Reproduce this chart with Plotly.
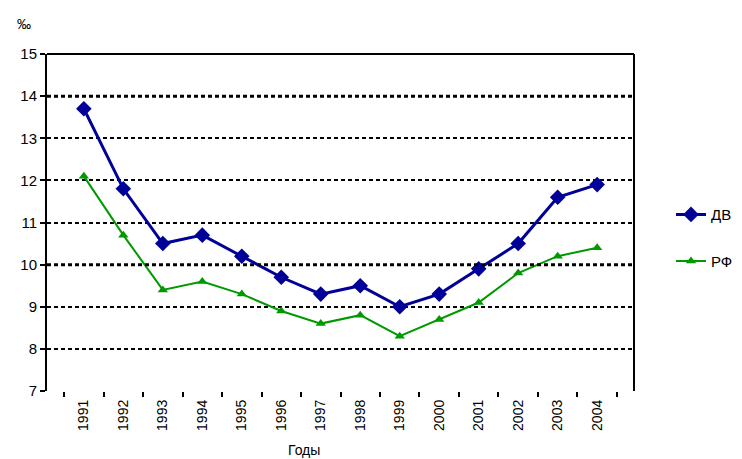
import plotly.graph_objects as go

years = ["1991", "1992", "1993", "1994", "1995", "1996", "1997", "1998", "1999", "2000", "2001", "2002", "2003", "2004"]
dv = [13.7, 11.8, 10.5, 10.7, 10.2, 9.7, 9.3, 9.5, 9.0, 9.3, 9.9, 10.5, 11.6, 11.9]
rf = [12.1, 10.7, 9.4, 9.6, 9.3, 8.9, 8.6, 8.8, 8.3, 8.7, 9.1, 9.8, 10.2, 10.4]
y_ticks = [7, 8, 9, 10, 11, 12, 13, 14, 15]

FONT = "Liberation Sans, Arial, sans-serif"

fig = go.Figure()
fig.add_trace(go.Scatter(x=years, y=dv, name="ДВ", mode="lines+markers", legendgroup="a",
                         line=dict(color="#000099", width=3),
                         marker=dict(symbol="diamond", size=12, color="#000099")))
fig.add_trace(go.Scatter(x=years, y=rf, name="РФ", mode="lines+markers", legendgroup="b",
                         line=dict(color="#009900", width=2),
                         marker=dict(symbol="triangle-up", size=9, color="#009900")))

fig.update_layout(
    width=742, height=459,
    margin=dict(l=35, r=107, t=46, b=76),
    paper_bgcolor="white", plot_bgcolor="white",
    font=dict(family=FONT, size=13, color="black"),
    showlegend=True,
    legend=dict(x=1.063, y=0.455, xanchor="left", yanchor="middle",
                font=dict(size=15), tracegroupgap=24, itemwidth=30,
                bgcolor="rgba(0,0,0,0)"),
    xaxis=dict(type="category", tickson="boundaries", ticks="outside", ticklen=5,
               tickwidth=2, tickcolor="black", tickangle=-90, showgrid=False,
               showline=False, zeroline=False, tickfont=dict(size=14),
               ticklabelstandoff=5),
    yaxis=dict(range=[7, 15], tickvals=y_ticks, ticks="outside", ticklen=5,
               tickwidth=2, tickcolor="black", showline=True, linecolor="black",
               linewidth=2, showgrid=True, gridcolor="black", gridwidth=2,
               griddash="4px,3px", zeroline=False, tickfont=dict(size=15)),
    shapes=[
        dict(type="line", xref="paper", yref="paper", x0=0, x1=1, y0=1, y1=1,
             line=dict(color="black", width=2)),
        dict(type="line", xref="paper", yref="paper", x0=1, x1=1, y0=0, y1=1,
             line=dict(color="black", width=2)),
        dict(type="line", xref="paper", yref="y", x0=0, x1=1, y0=14, y1=14,
             line=dict(color="black", width=3, dash="4px,3px")),
        dict(type="line", xref="paper", yref="y", x0=0, x1=1, y0=10, y1=10,
             line=dict(color="black", width=3, dash="4px,3px")),
    ],
    annotations=[
        dict(text="‰", xref="paper", yref="paper", x=-0.04, y=1.06,
             xanchor="center", yanchor="bottom", showarrow=False, font=dict(size=14)),
        dict(text="Годы", xref="paper", yref="paper", x=0.438, y=-0.175,
             xanchor="center", yanchor="middle", showarrow=False, font=dict(size=14)),
    ],
)

fig.write_html("out.html")
